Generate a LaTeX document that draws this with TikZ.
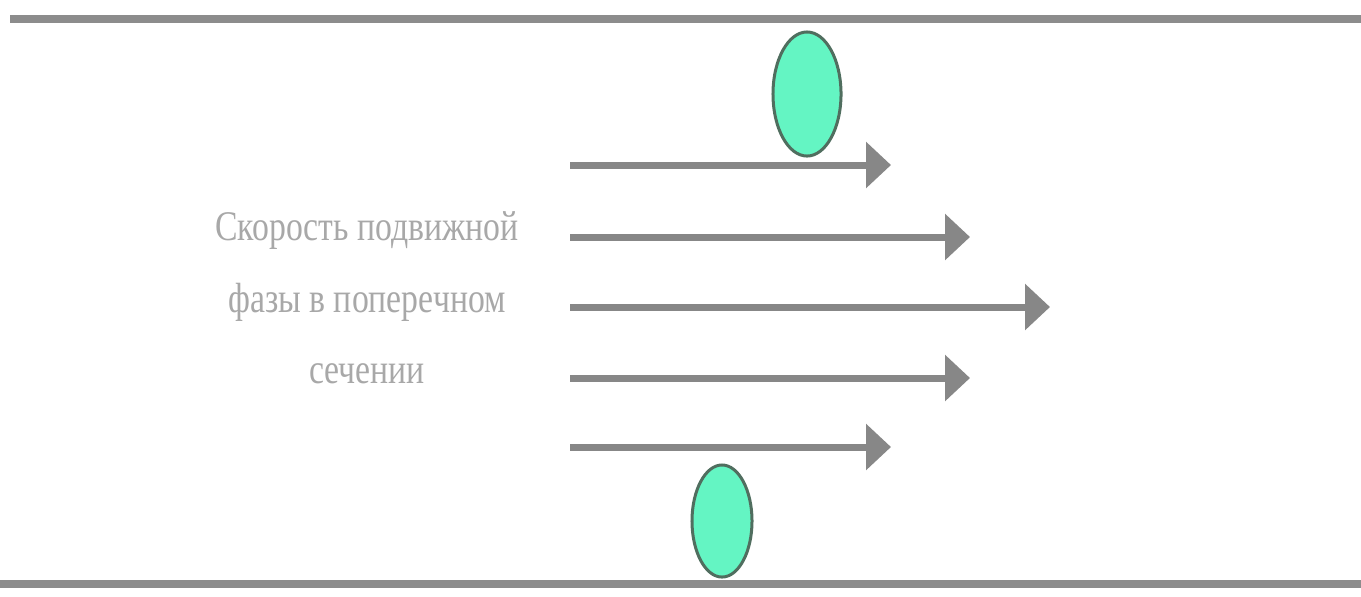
\documentclass[tikz,border=0pt]{standalone}
\usepackage{fontspec}
\setmainfont{Liberation Serif}[FakeStretch=0.8]
\usetikzlibrary{arrows.meta,shapes.geometric}
\definecolor{wallgray}{RGB}{140,140,140}
\definecolor{arrowgray}{RGB}{135,135,135}
\definecolor{labelgray}{RGB}{168,168,168}
\definecolor{beadfill}{RGB}{100,245,195}
\definecolor{beadedge}{RGB}{80,110,95}
\tikzset{
  wall/.style={draw=wallgray, line width=0.08cm},
  bead/.style={ellipse, draw=beadedge, line width=0.03cm, fill=beadfill, inner sep=0pt},
  flow/.style={draw=arrowgray, line width=0.07cm,
    -{Triangle[length=0.25cm,width=0.45cm]}},
  caption/.style={text=labelgray, align=center, font=\fontsize{12}{20.3}\selectfont}
}
\begin{document}
\begin{tikzpicture}[x=0.01cm,y=-0.01cm]
  \useasboundingbox (0,0) rectangle (1361,596);
  % channel walls
  \coordinate (tl) at (10,19);
  \coordinate (tr) at (1361,19);
  \coordinate (bl) at (0,584);
  \coordinate (br) at (1361,584);
  \draw[wall] (tl) -- (tr);
  \draw[wall] (bl) -- (br);
  % stationary-phase particles
  \node[bead, minimum width=0.68cm, minimum height=1.24cm] (b1) at (807,94) {};
  \node[bead, minimum width=0.60cm, minimum height=1.12cm] (b2) at (722,521) {};
  % velocity profile
  \foreach \i/\y/\x in {1/165/891, 2/237/970, 3/307/1050, 4/378/970, 5/447/891}{
    \coordinate (s\i) at (570,\y);
    \coordinate (e\i) at (\x,\y);
    \draw[flow] (s\i) -- (e\i);
  }
  % label
  \node[caption] (lbl) at (367,298) {Скорость подвижной\\фазы в поперечном\\сечении};
\end{tikzpicture}
\end{document}
